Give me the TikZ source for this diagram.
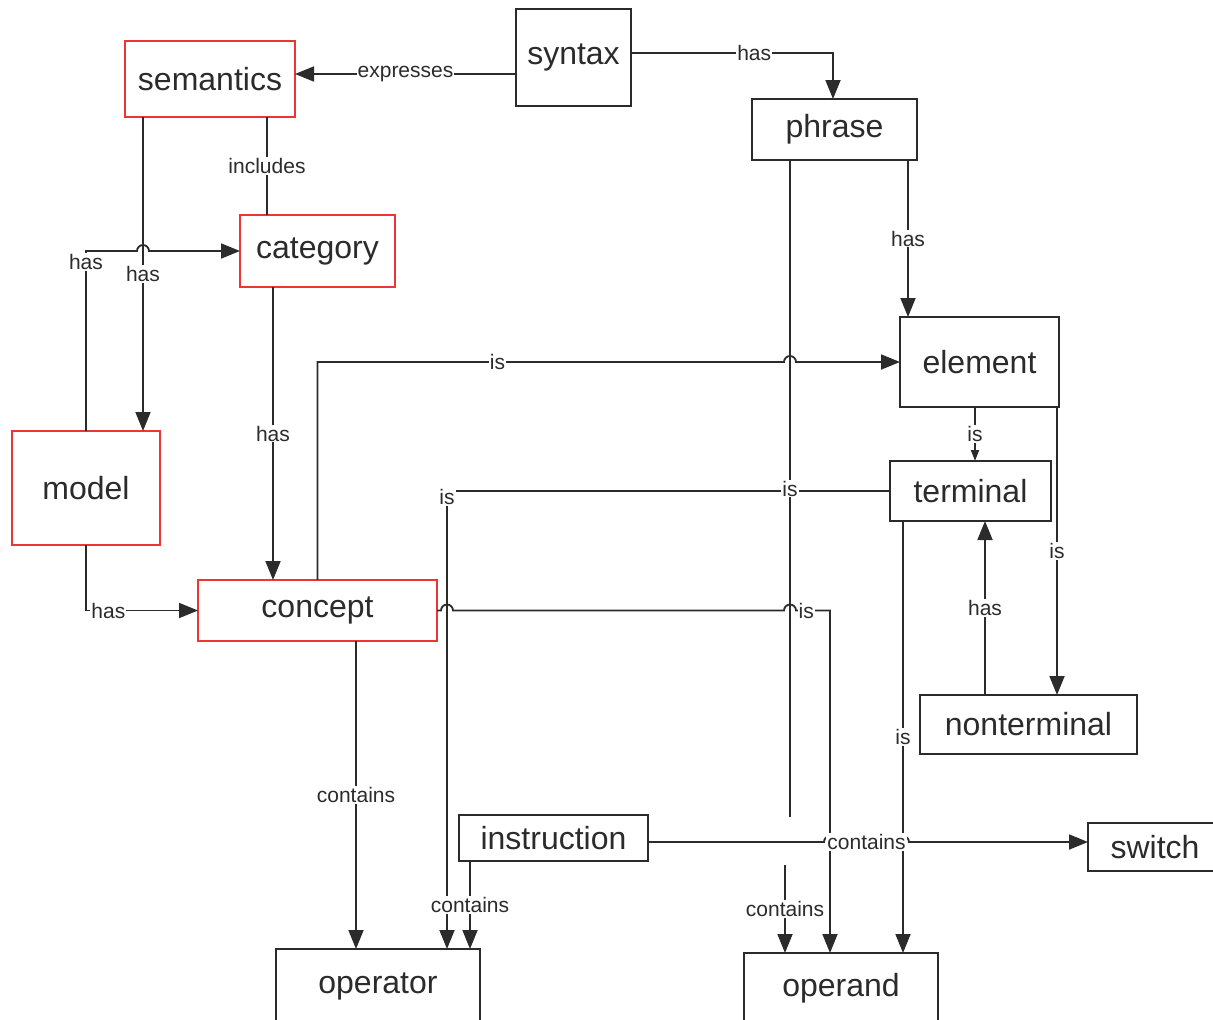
\documentclass[tikz,border=0pt]{standalone}
\usepackage{fontspec}
\setmainfont{Liberation Sans}
\usetikzlibrary{arrows.meta}
\definecolor{ink}{HTML}{2B2B2B}
\definecolor{redline}{HTML}{EE3535}
\begin{document}
\begin{tikzpicture}[x=1pt,y=-1pt,
  box/.style={draw=ink, line width=1.8pt, text=ink, font=\fontsize{32}{34}\selectfont, inner sep=0pt, outer sep=0pt},
  redbox/.style={box, draw=redline},
  conn/.style={draw=ink, line width=1.8pt},
  arr/.style={conn, -{Triangle[length=19pt,width=15pt]}},
  smallarr/.style={conn, -{Triangle[length=11pt,width=8pt]}},
  lbl/.style={fill=white, text=ink, font=\fontsize{21}{23}\selectfont, inner sep=1pt}]
\useasboundingbox (0,0) rectangle (1213,1020);

% concept boxes
\node[redbox, minimum width=170pt, minimum height=76pt] (semantics) at (210,79) {semantics};
\node[box, minimum width=115pt, minimum height=97pt] (syntax) at (573.5,57.5) {syntax};
\node[box, minimum width=165pt, minimum height=61pt] (phrase) at (834.5,129.5) {phrase};
\node[redbox, minimum width=155pt, minimum height=72pt] (category) at (317.5,251) {category};
\node[box, minimum width=159pt, minimum height=90pt] (element) at (979.5,362) {element};
\node[redbox, minimum width=148pt, minimum height=114pt] (model) at (86,488) {model};
\node[box, minimum width=161pt, minimum height=60pt] (terminal) at (970.5,491) {terminal};
\node[redbox, minimum width=239pt, minimum height=61pt] (concept) at (317.5,610.5) {concept};
\node[box, minimum width=217pt, minimum height=59pt] (nonterminal) at (1028.5,724.5) {nonterminal};
\node[box, minimum width=189pt, minimum height=46pt] (instruction) at (553.5,838) {instruction};
\node[box, minimum width=134pt, minimum height=48pt] (switch) at (1155,847) {switch};
\node[box, minimum width=204pt, minimum height=75pt] (operator) at (378,986.5) {operator};
\node[box, minimum width=194pt, minimum height=70pt] (operand) at (841,988) {operand};

% attachment points along the box sides
\coordinate (semL) at ([xshift=18pt]semantics.south west);
\coordinate (semR) at ([xshift=142pt]semantics.south west);
\coordinate (catB) at ([xshift=33pt]category.south west);
\coordinate (phrL) at ([xshift=38pt]phrase.south west);
\coordinate (phrR) at ([xshift=156pt]phrase.south west);
\coordinate (phrEnd) at ([yshift=-657pt]phrL);
\coordinate (opTop) at ([xshift=171pt]operator.north west);
\coordinate (odMid) at ([xshift=86pt]operand.north west);
\coordinate (odLeft) at ([xshift=41pt]operand.north west);
\coordinate (odFree) at ([yshift=88pt]odLeft);
\coordinate (termB) at ([xshift=13pt]terminal.south west);
\coordinate (conB) at ([xshift=158pt]concept.south west);
\coordinate (insB) at ([xshift=11pt]instruction.south west);
\coordinate (insE) at ([yshift=-4pt]instruction.east);
\coordinate (synW) at ([yshift=-16.5pt]syntax.west);
\coordinate (synE) at ([yshift=4.5pt]syntax.east);
\coordinate (phrT) at ([xshift=-1.5pt]phrase.north);
\coordinate (eleB) at ([xshift=-4.5pt]element.south);
\coordinate (eleR) at ([xshift=-2pt]element.south east);
\coordinate (ntT) at ([xshift=65pt]nonterminal.north west);

% crossing points where a line hops over another
\coordinate (jMC) at (semL |- category.west);
\coordinate (jCE) at (phrL |- element.west);
\coordinate (jCO1) at (opTop |- concept.east);
\coordinate (jCO2) at (phrL |- concept.east);
\coordinate (jIS1) at (odMid |- insE);
\coordinate (jIS2) at (termB |- insE);

% syntax side
\draw[arr] (synW) -- node[lbl]{expresses} (synW -| semantics.east);
\draw[arr] (synE) -| node[lbl,pos=0.305]{has} (phrT);

% semantics side
\draw[arr] (semL) -- node[lbl]{has} (semL |- model.north);
\draw[conn] (semR) -- node[lbl]{includes} (semR |- category.north);
\draw[arr] (model.north) -- node[lbl,pos=0.94]{has} (model.north |- category.west)
  -- ([xshift=-6pt]jMC) arc[start angle=180,end angle=0,radius=6pt] -- (category.west);
\draw[arr] (catB) -- node[lbl]{has} (catB |- concept.north);
\draw[arr] (model.south) |- node[lbl,pos=0.6]{has} (concept.west);

% long horizontal links
\draw[arr] (terminal.west) -| node[lbl,pos=0.507]{is} (opTop);
\draw[arr] (concept.north) -- (concept.north |- element.west)
  -- node[lbl,pos=0.386]{is} ([xshift=-6pt]jCE) arc[start angle=180,end angle=0,radius=6pt] -- (element.west);
\draw[conn] (phrL) -- node[lbl]{is} (phrEnd);
\draw[arr] (termB) -- node[lbl]{is} (termB |- operand.north);
\draw[arr] (concept.east) -- ([xshift=-6pt]jCO1) arc[start angle=180,end angle=0,radius=6pt]
  -- ([xshift=-6pt]jCO2) arc[start angle=180,end angle=0,radius=6pt]
  -- node[lbl,pos=0.3]{is} (odMid |- concept.east) -- (odMid);

% lower part
\draw[arr] (conB) -- node[lbl]{contains} (conB |- operator.north);
\draw[arr] (insB) -- node[lbl]{contains} (insB |- operator.north);
\draw[arr] (odFree) -- node[lbl]{contains} (odLeft);
\draw[arr] (insE) -- ([xshift=-6pt]jIS1) arc[start angle=180,end angle=0,radius=6pt]
  -- node[lbl]{contains} ([xshift=-6pt]jIS2) arc[start angle=180,end angle=0,radius=6pt]
  -- (insE -| switch.west);

% grammar side
\draw[arr] (phrR) -- node[lbl]{has} (phrR |- element.north);
\draw[smallarr] (eleB) -- node[lbl]{is} (eleB |- terminal.north);
\draw[arr] (eleR) -- node[lbl]{is} (eleR |- nonterminal.north);
\draw[arr] (ntT) -- node[lbl]{has} (ntT |- terminal.south);
\end{tikzpicture}
\end{document}
